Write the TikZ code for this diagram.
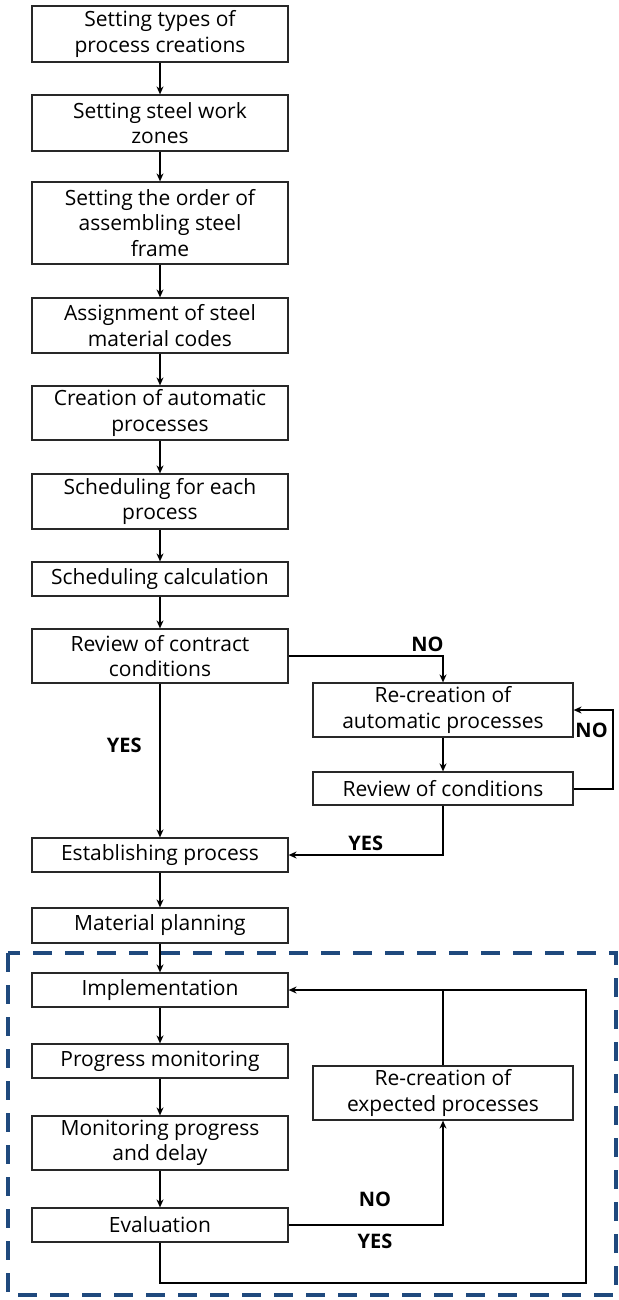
\documentclass[tikz,border=0pt]{standalone}
\usepackage{fontspec}
\setmainfont{Open Sans}
\usepackage{tikz}
\usetikzlibrary{arrows.meta}
\definecolor{dashblue}{RGB}{31,73,125}
\definecolor{boxline}{RGB}{40,40,40}
\tikzset{lbox/.style={rectangle,draw=boxline,line width=1.2pt,fill=white,minimum width=256pt,align=center,font=\fontsize{21}{25.5}\selectfont,inner sep=0pt},
  rbox/.style={lbox,minimum width=260pt},
  flow/.style={line width=2pt,-{Stealth[length=8pt,width=7pt]}},
  yn/.style={font=\fontsize{20}{22}\selectfont\bfseries}}

\begin{document}
\begin{tikzpicture}[x=1pt,y=-1pt]
    \useasboundingbox (0,0) rectangle (618,1300);
    \draw [dashblue,line width=3.2pt,dash pattern=on 19pt off 13pt] (8,953) rectangle (616,1295);

    \node[lbox,minimum height=56pt] (types) at (160,34) {Setting types of\\process creations};
    \node[lbox,minimum height=56pt] (zones) at (160,123) {Setting steel work\\zones};
    \node[lbox,minimum height=82pt] (order) at (160,223) {Setting the order of\\assembling steel\\frame};
    \node[lbox,minimum height=55pt] (codes) at (160,325.5) {Assignment of steel\\material codes};
    \node[lbox,minimum height=54pt] (auto) at (160,413) {Creation of automatic\\processes};
    \node[lbox,minimum height=55pt] (each) at (160,501.5) {Scheduling for each\\process};
    \node[lbox,minimum height=34pt] (calc) at (160,579) {Scheduling calculation};
    \node[lbox,minimum height=54pt] (contract) at (160,656) {Review of contract\\conditions};
    \node[lbox,minimum height=34pt] (establish) at (160,855) {Establishing process};
    \node[lbox,minimum height=35pt] (material) at (160,925.5) {Material planning};
    \node[lbox,minimum height=34pt] (impl) at (160,990) {Implementation};
    \node[lbox,minimum height=34pt] (monitor) at (160,1061) {Progress monitoring};
    \node[lbox,minimum height=54pt] (delay) at (160,1143) {Monitoring progress\\and delay};
    \node[lbox,minimum height=34pt] (eval) at (160,1225) {Evaluation};

    \node[rbox,minimum height=54pt] (recauto) at (443,710) {Re-creation of\\automatic processes};
    \node[rbox,minimum height=33pt] (cond) at (443,788.5) {Review of conditions};
    \node[rbox,minimum height=54pt] (recexp) at (443,1093) {Re-creation of\\expected processes};

    \coordinate (noloop) at (613,750);
    \coordinate (join) at (443,990);
    \coordinate (bottomleft) at (160,1283);
    \coordinate (bottomright) at (586,1283);

    \draw [flow] (types) to (zones);
    \draw [flow] (zones) to (order);
    \draw [flow] (order) to (codes);
    \draw [flow] (codes) to (auto);
    \draw [flow] (auto) to (each);
    \draw [flow] (each) to (calc);
    \draw [flow] (calc) to (contract);
    \draw [flow] (contract) to node[yn,left=14pt,pos=0.4]{YES} (establish);
    \draw [flow] (contract.east) -| node[yn,above,pos=0.45]{NO} (recauto.north);
    \draw [flow] (recauto) to (cond);
    \draw [flow] (cond.east) -| (noloop) |- node[yn,left=1pt,pos=0.25]{NO} (recauto.east);
    \draw [flow] (cond.south) |- node[yn,above,pos=0.75]{YES} (establish.east);
    \draw [flow] (establish) to (material);
    \draw [flow] (material) to (impl);
    \draw [flow] (impl) to (monitor);
    \draw [flow] (monitor) to (delay);
    \draw [flow] (delay) to (eval);
    \draw [flow] (eval.east) -| node[yn,above=14pt,pos=0.28]{NO} node[yn,below=5pt,pos=0.28]{YES} (recexp.south);
    \draw [line width=2pt] (recexp.north) to (join);
    \draw [flow] (eval.south) -- (bottomleft) -- (bottomright) |- (impl.east);
\end{tikzpicture}
\end{document}
